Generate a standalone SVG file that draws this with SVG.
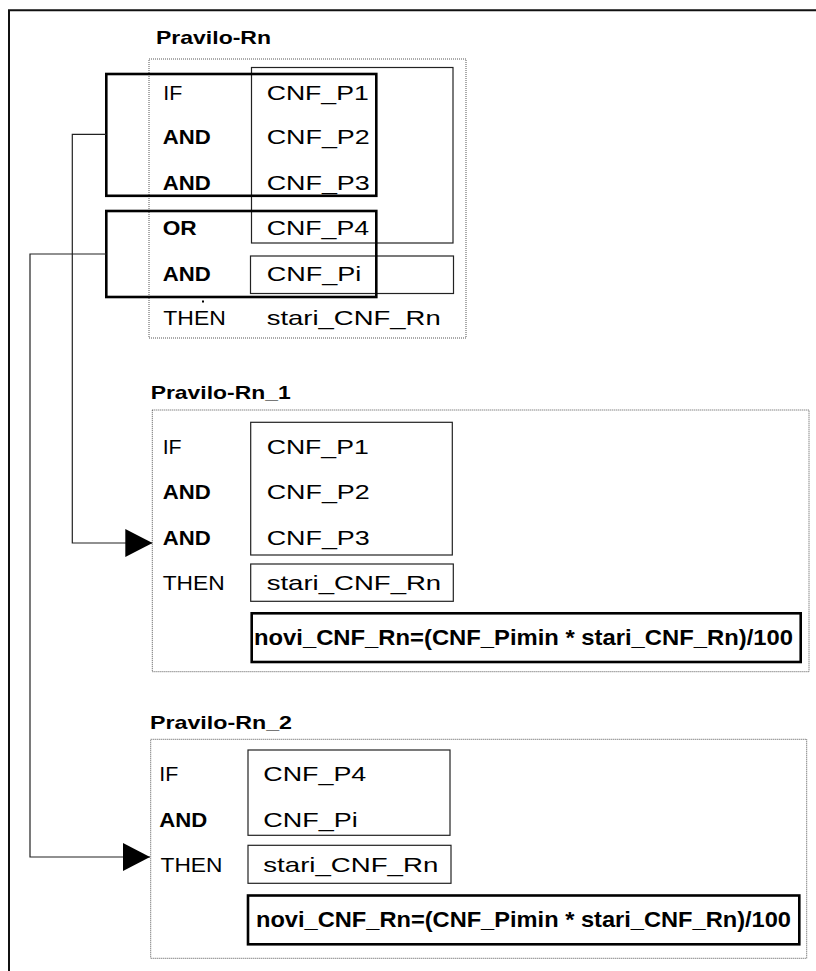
<svg xmlns="http://www.w3.org/2000/svg" width="816" height="971" viewBox="0 0 816 971">
<style>
.t{font-family:"Liberation Sans",Arial,sans-serif;font-size:21px;fill:#000}
.b{font-weight:bold}
.title{font-family:"Liberation Sans",Arial,sans-serif;font-size:18.5px;font-weight:bold;fill:#000}
.f{font-family:"Liberation Sans",Arial,sans-serif;font-size:22px;font-weight:bold;fill:#000}
.dot{fill:none;stroke:#555;stroke-width:1;stroke-dasharray:1 1}
.thin{fill:none;stroke:#222;stroke-width:1.2}
.thick{fill:none;stroke:#000;stroke-width:2.6}
.con{fill:none;stroke:#222;stroke-width:1.2}
</style>
<defs>
<marker id="arr" viewBox="0 0 27 28" refX="27" refY="14" markerWidth="27" markerHeight="28" markerUnits="userSpaceOnUse" orient="auto">
<path d="M0,0 L27,14 L0,28 Z" fill="#000"/>
</marker>
</defs>
<rect width="816" height="971" fill="#fff"/>
<path d="M9,971 V10.3 H816" fill="none" stroke="#111" stroke-width="2"/>

<g id="pravilo-rn">
<text class="title" x="156" y="43.5" textLength="115" lengthAdjust="spacingAndGlyphs">Pravilo-Rn</text>
<rect class="dot" x="149" y="59" width="317" height="279"/>
<rect class="thin" x="251.5" y="67.5" width="201.5" height="175.5"/>
<rect class="thin" x="250.5" y="256" width="203" height="37.5"/>
<text class="t" x="163.3" y="99.5" textLength="19" lengthAdjust="spacingAndGlyphs">IF</text>
<text class="t b" x="162.7" y="144.3" textLength="48" lengthAdjust="spacingAndGlyphs">AND</text>
<text class="t b" x="162.7" y="190" textLength="48" lengthAdjust="spacingAndGlyphs">AND</text>
<text class="t b" x="162.7" y="235.3" textLength="34" lengthAdjust="spacingAndGlyphs">OR</text>
<text class="t b" x="162.7" y="280.7" textLength="48" lengthAdjust="spacingAndGlyphs">AND</text>
<text class="t" x="163.3" y="325" textLength="62.5" lengthAdjust="spacingAndGlyphs">THEN</text>
<text class="t" x="266.7" y="99.5" textLength="102" lengthAdjust="spacingAndGlyphs">CNF_P1</text>
<text class="t" x="266.7" y="144.3" textLength="103" lengthAdjust="spacingAndGlyphs">CNF_P2</text>
<text class="t" x="266.7" y="190" textLength="103" lengthAdjust="spacingAndGlyphs">CNF_P3</text>
<text class="t" x="266.7" y="235.3" textLength="102.5" lengthAdjust="spacingAndGlyphs">CNF_P4</text>
<text class="t" x="266.7" y="280.7" textLength="94.5" lengthAdjust="spacingAndGlyphs">CNF_Pi</text>
<text class="t" x="266.7" y="325" textLength="174" lengthAdjust="spacingAndGlyphs">stari_CNF_Rn</text>
<rect x="202" y="300.5" width="2" height="2" fill="#000"/>
</g>

<g id="group-and">
<rect class="thick" x="106.3" y="74" width="270" height="121.8"/>
</g>
<g id="group-or">
<rect class="thick" x="106.3" y="211" width="270" height="86"/>
</g>

<g id="pravilo-rn-1">
<text class="title" x="150.7" y="399.3" textLength="140" lengthAdjust="spacingAndGlyphs">Pravilo-Rn_1</text>
<rect class="dot" x="152.3" y="410" width="656.7" height="261.7"/>
<rect class="thin" x="250.7" y="422.3" width="201.6" height="132.7"/>
<rect class="thin" x="250.7" y="564" width="202.6" height="37.3"/>
<rect class="thick" x="251.7" y="613.3" width="549" height="48.7"/>
<text class="t" x="162.7" y="454.3" textLength="19" lengthAdjust="spacingAndGlyphs">IF</text>
<text class="t b" x="162.7" y="499" textLength="48" lengthAdjust="spacingAndGlyphs">AND</text>
<text class="t b" x="162.7" y="544.7" textLength="48" lengthAdjust="spacingAndGlyphs">AND</text>
<text class="t" x="162.7" y="590" textLength="62" lengthAdjust="spacingAndGlyphs">THEN</text>
<text class="t" x="266.7" y="454.3" textLength="102" lengthAdjust="spacingAndGlyphs">CNF_P1</text>
<text class="t" x="266.7" y="499" textLength="103" lengthAdjust="spacingAndGlyphs">CNF_P2</text>
<text class="t" x="266.7" y="544.7" textLength="103" lengthAdjust="spacingAndGlyphs">CNF_P3</text>
<text class="t" x="266.7" y="590" textLength="174.5" lengthAdjust="spacingAndGlyphs">stari_CNF_Rn</text>
<text class="f" x="254" y="645" textLength="539" lengthAdjust="spacingAndGlyphs">novi_CNF_Rn=(CNF_Pimin * stari_CNF_Rn)/100</text>
</g>

<g id="pravilo-rn-2">
<text class="title" x="150" y="729.3" textLength="142" lengthAdjust="spacingAndGlyphs">Pravilo-Rn_2</text>
<rect class="dot" x="150.7" y="739.3" width="656" height="219"/>
<rect class="thin" x="248" y="750" width="202" height="85.3"/>
<rect class="thin" x="248" y="845.3" width="203" height="38"/>
<rect class="thick" x="248" y="895.5" width="551.3" height="48.8"/>
<text class="t" x="159.3" y="781" textLength="19" lengthAdjust="spacingAndGlyphs">IF</text>
<text class="t b" x="159.3" y="826.7" textLength="48" lengthAdjust="spacingAndGlyphs">AND</text>
<text class="t" x="160.5" y="871.7" textLength="62" lengthAdjust="spacingAndGlyphs">THEN</text>
<text class="t" x="263.3" y="781" textLength="103" lengthAdjust="spacingAndGlyphs">CNF_P4</text>
<text class="t" x="263.3" y="826.7" textLength="94.5" lengthAdjust="spacingAndGlyphs">CNF_Pi</text>
<text class="t" x="263.3" y="871.7" textLength="175" lengthAdjust="spacingAndGlyphs">stari_CNF_Rn</text>
<text class="f" x="256" y="926.5" textLength="535" lengthAdjust="spacingAndGlyphs">novi_CNF_Rn=(CNF_Pimin * stari_CNF_Rn)/100</text>
</g>

<g id="connectors">
<path class="con" d="M106.3,134.3 H72.3 V543 H152.3" marker-end="url(#arr)"/>
<path class="con" d="M106.3,254 H30 V857 H150" marker-end="url(#arr)"/>
</g>
</svg>
